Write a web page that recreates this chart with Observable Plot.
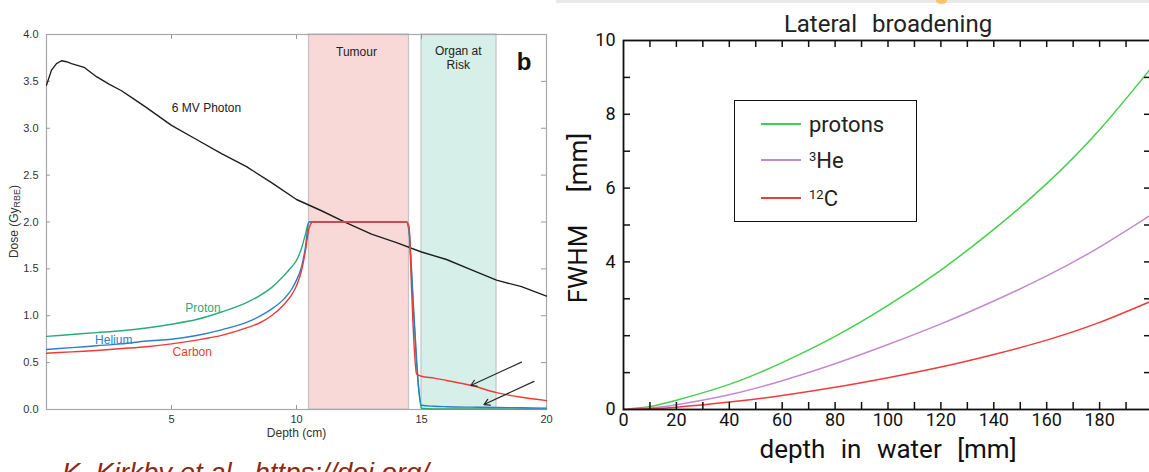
<!DOCTYPE html>
<html><head><meta charset="utf-8">
<script src="https://cdn.jsdelivr.net/npm/d3@7"></script>
<script src="https://cdn.jsdelivr.net/npm/@observablehq/plot@0.6"></script>
<style>
html,body{margin:0;padding:0;background:#fff;}
body{width:1149px;height:472px;overflow:hidden;position:relative;}
#left{position:absolute;left:0;top:0;width:560px;}
#right{position:absolute;left:560px;top:0;width:600px;}
#left svg,#right svg{max-width:none !important;}
#strip{position:absolute;left:556px;top:0;width:593px;height:3px;background:#e9e9e9;}
#blob{position:absolute;left:936px;top:-3px;width:11px;height:7px;border-radius:50%;background:#f7c46a;}
#legend{position:absolute;left:734px;top:100px;width:181px;height:120px;border:1.5px solid #111;background:#fff;
  font-family:Roboto,"Liberation Sans",sans-serif;font-weight:400;font-size:22px;color:#222;}
#legend .row{position:absolute;left:0;height:30px;display:flex;align-items:center;}
#legend .sw{display:inline-block;width:40px;height:2.5px;margin-left:26px;margin-right:8px;}
#legend sup{font-size:13px;vertical-align:7px;}
#caption{position:absolute;left:62px;top:459px;font-family:"Liberation Sans",Arial,sans-serif;font-style:italic;
  font-size:27.5px;line-height:27.5px;color:#8e2a14;white-space:nowrap;}
</style></head><body>
<div id="left"></div>
<div id="right"></div>
<div id="strip"></div>
<div id="blob"></div>
<div id="legend"></div>
<div id="caption">K. Kirkby et al., https://doi.org/</div>
<script>
// ---------- Left chart data (dose vs depth) ----------
const doseTicks = [0, 0.5, 1, 1.5, 2, 2.5, 3, 3.5, 4];
const depthTicks = [5, 10, 15, 20];

const photonDepth = [0, 0.2, 0.4, 0.6, 0.8, 1, 1.5, 2, 2.5, 3, 3.5, 4, 5, 6, 7, 8, 9, 10, 11, 12, 13, 14, 15, 16, 17, 18, 19, 20];
const photonDose  = [3.46, 3.62, 3.69, 3.72, 3.71, 3.69, 3.65, 3.55, 3.47, 3.40, 3.31, 3.22, 3.03, 2.88, 2.73, 2.59, 2.42, 2.24, 2.12, 1.99, 1.87, 1.78, 1.68, 1.60, 1.49, 1.38, 1.31, 1.21];

const ionDepth   = [0, 1, 2, 3, 4, 5, 6, 7, 8, 8.5, 9, 9.5, 9.8, 10, 10.2, 10.35, 10.5, 10.65, 14.4, 14.5, 14.6, 14.7, 14.8, 14.9, 15, 15.5, 16, 17, 18, 19, 20];
const protonDose = [0.78, 0.80, 0.82, 0.84, 0.87, 0.91, 0.96, 1.04, 1.14, 1.21, 1.30, 1.43, 1.52, 1.59, 1.72, 1.86, 2.0, 2.0, 2.0, 1.90, 1.45, 0.95, 0.50, 0.18, 0.01, 0.006, 0.005, 0.005, 0.005, 0.005, 0.005];
const heliumDose = [0.64, 0.66, 0.68, 0.70, 0.73, 0.75, 0.79, 0.85, 0.93, 0.99, 1.07, 1.18, 1.28, 1.38, 1.52, 1.72, 2.0, 2.0, 2.0, 1.92, 1.50, 1.00, 0.55, 0.20, 0.045, 0.035, 0.03, 0.025, 0.022, 0.018, 0.015];
const carbonDose = [0.60, 0.615, 0.63, 0.65, 0.67, 0.70, 0.74, 0.79, 0.87, 0.92, 1.00, 1.12, 1.22, 1.32, 1.48, 1.68, 1.93, 2.0, 2.0, 1.95, 1.30, 0.70, 0.38, 0.365, 0.355, 0.335, 0.31, 0.256, 0.18, 0.13, 0.095];

const bandNames = ["Tumour", "Organ at Risk"];
const bandStart = [10.5, 15];
const bandEnd   = [14.5, 18];
const bandFill  = ["#f9d9d7", "#d6efe8"];

const noteText  = ["6 MV Photon", "Tumour", "Organ at\nRisk", "Proton", "Helium", "Carbon"];
const noteX     = [6.4, 12.4, 16.47, 6.26, 2.69, 5.83];
const noteY     = [3.22, 3.82, 3.75, 1.09, 0.747, 0.619];
const noteColor = ["#222", "#222", "#222", "#2bab77", "#2c7fcb", "#ee3b35"];

const arrowX1 = [19.0, 19.5], arrowY1 = [0.505, 0.30];
const arrowX2 = [16.97, 17.5], arrowY2 = [0.256, 0.053];

// ---------- Right chart data (lateral broadening) ----------
const fwhmDepth  = [0, 10, 20, 40, 60, 80, 100, 120, 140, 160, 180, 200];
const protonFWHM = [0, 0.08, 0.25, 0.68, 1.27, 1.98, 2.82, 3.78, 4.88, 6.12, 7.58, 9.30];
const heFWHM     = [0, 0.04, 0.13, 0.40, 0.78, 1.24, 1.76, 2.32, 2.94, 3.62, 4.40, 5.30];
const carbonFWHM = [0, 0.02, 0.06, 0.20, 0.38, 0.60, 0.86, 1.15, 1.49, 1.88, 2.36, 2.95];
const seriesNames  = ["protons", "3He", "12C"];
const seriesColors = ["#46cf4e", "#c48ad0", "#ef3b3b"];
const xTickLabels = [0, 20, 40, 60, 80, 100, 120, 140, 160, 180];
const xTickMarks  = [10, 20, 30, 40, 50, 60, 70, 80, 90, 100, 110, 120, 130, 140, 150, 160, 170, 180, 190];
const yTickLabels = [0, 4, 6, 8, 10];
const yTickMarks  = [1, 2, 3, 4, 5, 6, 7, 8, 9];

// ---------- Build left chart ----------
const photon = photonDepth.map((d, i) => ({depth: d, dose: photonDose[i]}));
const ions = [];
ionDepth.forEach((d, i) => {
  ions.push({depth: d, dose: protonDose[i], ion: "Proton"});
  ions.push({depth: d, dose: heliumDose[i], ion: "Helium"});
  ions.push({depth: d, dose: carbonDose[i], ion: "Carbon"});
});
const ionColor = {Proton: "#2bab77", Helium: "#2c7fcb", Carbon: "#ee3b35"};
const bands = bandNames.map((n, i) => ({name: n, start: bandStart[i], end: bandEnd[i], fill: bandFill[i]}));
const notes = noteText.map((t, i) => ({text: t, x: noteX[i], y: noteY[i], color: noteColor[i]}));
const arrows = arrowX1.map((x, i) => ({x1: x, y1: arrowY1[i], x2: arrowX2[i], y2: arrowY2[i]}));

const LW = 560, LH = 450, LML = 46, LMR = 14, LMT = 34, LMB = 41;
const lpw = LW - LML - LMR, lph = LH - LMT - LMB;
const leftFont = '"Liberation Sans", Arial, Helvetica, sans-serif';

const left = Plot.plot({
  width: LW, height: LH,
  marginLeft: LML, marginRight: LMR, marginTop: LMT, marginBottom: LMB,
  style: {fontFamily: leftFont, fontSize: "11px", color: "#333", background: "transparent"},
  x: {domain: [0, 20]},
  y: {domain: [0, 4]},
  marks: [
    Plot.rect(bands, {x1: "start", x2: "end", fill: "fill", stroke: "#c4c4c4", strokeWidth: 1.2}),
    Plot.frame({stroke: "#a8a8a8", strokeWidth: 1.2}),
    Plot.ruleY(doseTicks.slice(1, -1), {y: d => d, insetLeft: lpw - 5, stroke: "#999"}),
    Plot.ruleY(doseTicks.slice(1, -1), {y: d => d, insetRight: lpw - 4, stroke: "#999"}),
    Plot.ruleX(depthTicks.slice(0, -1), {x: d => d, insetBottom: lph - 5, stroke: "#999"}),
    Plot.ruleX(depthTicks.slice(0, -1), {x: d => d, insetTop: lph - 4, stroke: "#999"}),
    Plot.axisY({ticks: doseTicks, tickFormat: d3.format(".1f"), tickSize: 0, tickPadding: 8, label: null, fill: "#333"}),
    Plot.axisX({ticks: depthTicks, tickFormat: d => d, tickSize: 0, tickPadding: 6, label: null, fill: "#333"}),
    Plot.line(photon, {x: "depth", y: "dose", stroke: "#1e1e1e", strokeWidth: 1.4}),
    Plot.line(ions, {x: "depth", y: "dose", z: "ion", stroke: d => ionColor[d.ion], strokeWidth: 1.4, curve: "monotone-x"}),
    Plot.text(notes, {x: "x", y: "y", text: "text", fill: "color", fontSize: 12, lineHeight: 1.15}),
    Plot.text(["b"], {x: 19.1, y: 3.70, fontSize: 24, fontWeight: "bold", fill: "#111"}),
    Plot.arrow(arrows, {x1: "x1", y1: "y1", x2: "x2", y2: "y2", stroke: "#2a2a2a", strokeWidth: 1.2, headLength: 8}),
    Plot.text(["Depth (cm)"], {frameAnchor: "bottom", dy: 27, fontSize: 12, fill: "#333"})
  ]
});
document.getElementById("left").append(left);
d3.select(left).append("text")
  .attr("transform", `translate(15,${LMT + lph / 2}) rotate(-90)`)
  .attr("text-anchor", "middle").attr("dominant-baseline", "middle")
  .attr("font-family", leftFont).attr("font-size", 12).attr("fill", "#333")
  .call(t => {
    t.append("tspan").text("Dose (Gy");
    t.append("tspan").attr("font-size", 9).attr("dy", 3).text("RBE");
    t.append("tspan").attr("dy", -3).text(")");
  });

// ---------- Build right chart ----------
const fwhm = [];
fwhmDepth.forEach((d, i) => {
  fwhm.push({depth: d, v: protonFWHM[i], s: seriesNames[0]});
  fwhm.push({depth: d, v: heFWHM[i], s: seriesNames[1]});
  fwhm.push({depth: d, v: carbonFWHM[i], s: seriesNames[2]});
});
const RW = 600, RH = 472, RML = 63, RMR = 8, RMT = 40, RMB = 63;
const rpw = RW - RML - RMR, rph = RH - RMT - RMB;
const rightFont = 'Roboto, "Liberation Sans", Arial, sans-serif';

const right = Plot.plot({
  width: RW, height: RH,
  marginLeft: RML, marginRight: RMR, marginTop: RMT, marginBottom: RMB,
  style: {fontFamily: rightFont, fontSize: "18px", fontWeight: 400, color: "#111", background: "transparent"},
  x: {domain: [0, 200]},
  y: {domain: [0, 10]},
  color: {domain: seriesNames, range: seriesColors},
  marks: [
    Plot.line(fwhm, {x: "depth", y: "v", z: "s", stroke: "s", strokeWidth: 1.5, curve: "natural"}),
    Plot.frame({stroke: "#111", strokeWidth: 1.8}),
    Plot.ruleX(xTickMarks, {x: d => d, insetBottom: rph - 7, stroke: "#111", strokeWidth: 1.5}),
    Plot.ruleX(xTickMarks, {x: d => d, insetTop: rph - 7, stroke: "#111", strokeWidth: 1.5}),
    Plot.ruleY(yTickMarks, {y: d => d, insetRight: rpw - 7, stroke: "#111", strokeWidth: 1.5}),
    Plot.ruleY(yTickMarks, {y: d => d, insetLeft: rpw - 8, stroke: "#111", strokeWidth: 1.5}),
    Plot.axisX({ticks: xTickLabels, tickSize: 0, tickPadding: 4, label: null, fill: "#111"}),
    Plot.axisY({ticks: yTickLabels, tickSize: 0, tickPadding: 8, label: null, fill: "#111"}),
    Plot.text(["Lateral broadening"], {frameAnchor: "top", dy: -26, fontSize: 24, fill: "#222"}),
    Plot.text(["depth in water [mm]"], {frameAnchor: "bottom", dy: 48, fontSize: 26, fill: "#111"})
  ]
});
document.getElementById("right").append(right);
d3.select(right).selectAll("text").filter(function() {
  return this.textContent === "Lateral broadening" || this.textContent === "depth in water [mm]";
}).attr("word-spacing", "9px");
d3.select(right).append("text")
  .attr("transform", "translate(20,218) rotate(-90)")
  .attr("text-anchor", "middle").attr("dominant-baseline", "middle")
  .attr("font-family", rightFont).attr("font-size", 26).attr("fill", "#111")
  .attr("word-spacing", "26px")
  .text("FWHM [mm]");

// ---------- Legend (HTML) ----------
const legendLabels = ["protons", "<sup>3</sup>He", "<sup>12</sup>C"];
const legendTop = [8, 44, 82];
const lg = d3.select("#legend");
legendLabels.forEach((lab, i) => {
  const row = lg.append("div").attr("class", "row").style("top", legendTop[i] + "px");
  row.append("span").attr("class", "sw").style("background", seriesColors[i]);
  row.append("span").html(lab);
});
</script>
</body></html>
